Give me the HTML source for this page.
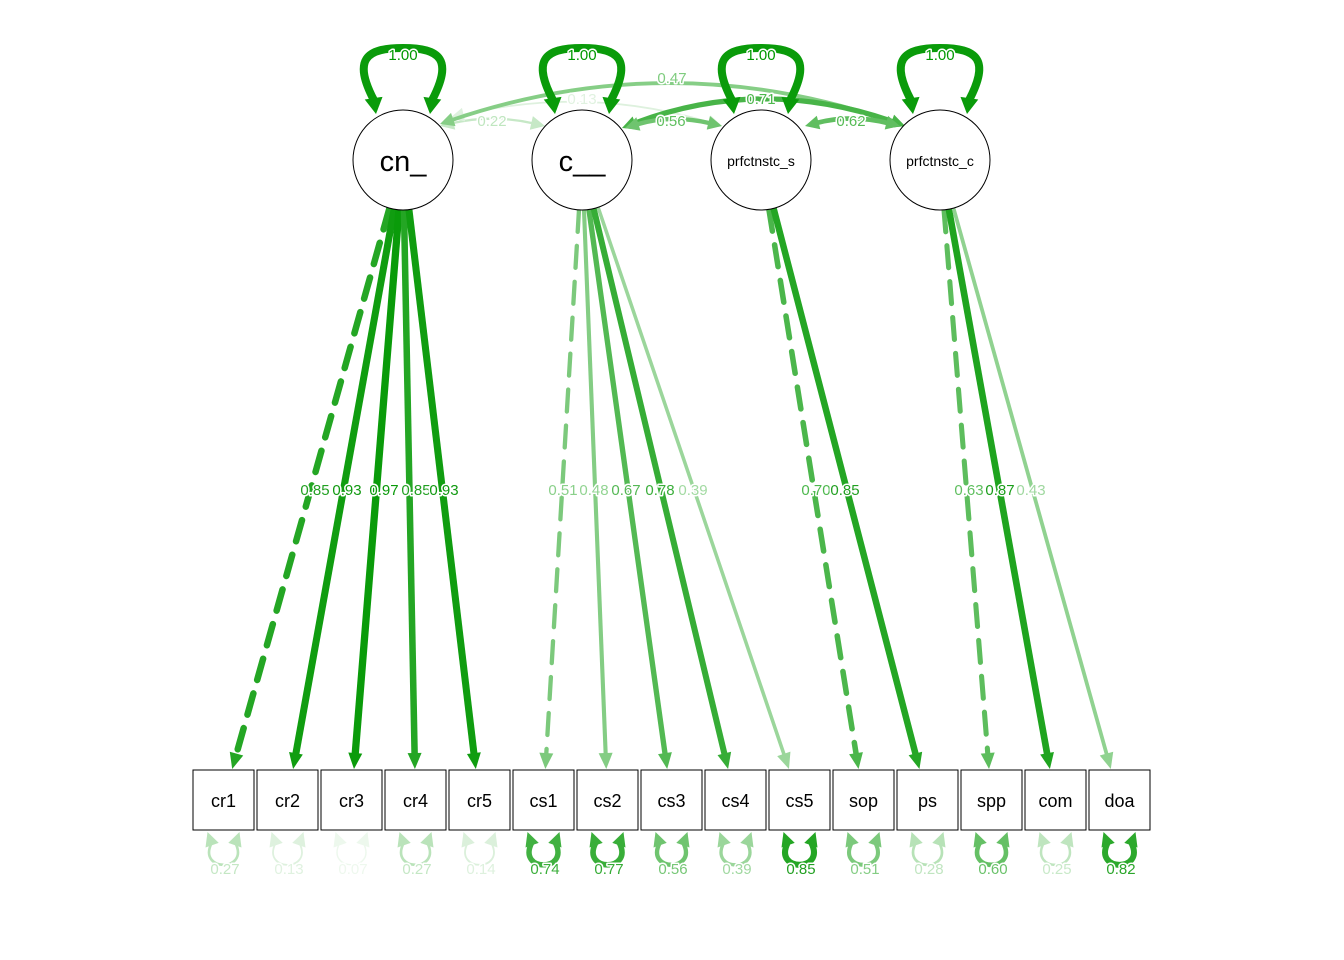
<!DOCTYPE html>
<html><head><meta charset="utf-8"><style>
html,body{margin:0;padding:0;background:#fff;}
svg{display:block;font-family:"Liberation Sans",Arial,sans-serif;}
.lb text{paint-order:stroke;stroke:#fff;stroke-width:3px;stroke-linejoin:round;}
</style></head><body>
<svg id="s" width="1344" height="960" viewBox="0 0 1344 960" xmlns="http://www.w3.org/2000/svg">
<g id="edges"></g>
<g id="nodes">
<circle cx="403" cy="160" r="50" fill="#fff" stroke="#000" stroke-width="1"/>
<circle cx="582" cy="160" r="50" fill="#fff" stroke="#000" stroke-width="1"/>
<circle cx="761" cy="160" r="50" fill="#fff" stroke="#000" stroke-width="1"/>
<circle cx="940" cy="160" r="50" fill="#fff" stroke="#000" stroke-width="1"/>
<text x="403" y="171" font-size="29" text-anchor="middle">cn_</text>
<text x="582" y="171" font-size="29" text-anchor="middle">c__</text>
<text x="761" y="166" font-size="14" text-anchor="middle">prfctnstc_s</text>
<text x="940" y="166" font-size="14" text-anchor="middle">prfctnstc_c</text>
</g>
<g id="boxes" font-size="18" text-anchor="middle">
<rect x="193" y="770" width="61" height="60" fill="#fff" stroke="#000"/><text x="223.5" y="807">cr1</text>
<rect x="257" y="770" width="61" height="60" fill="#fff" stroke="#000"/><text x="287.5" y="807">cr2</text>
<rect x="321" y="770" width="61" height="60" fill="#fff" stroke="#000"/><text x="351.5" y="807">cr3</text>
<rect x="385" y="770" width="61" height="60" fill="#fff" stroke="#000"/><text x="415.5" y="807">cr4</text>
<rect x="449" y="770" width="61" height="60" fill="#fff" stroke="#000"/><text x="479.5" y="807">cr5</text>
<rect x="513" y="770" width="61" height="60" fill="#fff" stroke="#000"/><text x="543.5" y="807">cs1</text>
<rect x="577" y="770" width="61" height="60" fill="#fff" stroke="#000"/><text x="607.5" y="807">cs2</text>
<rect x="641" y="770" width="61" height="60" fill="#fff" stroke="#000"/><text x="671.5" y="807">cs3</text>
<rect x="705" y="770" width="61" height="60" fill="#fff" stroke="#000"/><text x="735.5" y="807">cs4</text>
<rect x="769" y="770" width="61" height="60" fill="#fff" stroke="#000"/><text x="799.5" y="807">cs5</text>
<rect x="833" y="770" width="61" height="60" fill="#fff" stroke="#000"/><text x="863.5" y="807">sop</text>
<rect x="897" y="770" width="61" height="60" fill="#fff" stroke="#000"/><text x="927.5" y="807">ps</text>
<rect x="961" y="770" width="61" height="60" fill="#fff" stroke="#000"/><text x="991.5" y="807">spp</text>
<rect x="1025" y="770" width="61" height="60" fill="#fff" stroke="#000"/><text x="1055.5" y="807">com</text>
<rect x="1089" y="770" width="61" height="60" fill="#fff" stroke="#000"/><text x="1119.5" y="807">doa</text>
</g>
<g id="labels" class="lb" font-size="15" text-anchor="middle">
<text x="403" y="60" fill="#009900">1.00</text>
<text x="582" y="60" fill="#009900">1.00</text>
<text x="761" y="60" fill="#009900">1.00</text>
<text x="940" y="60" fill="#009900">1.00</text>
<text x="672" y="83" fill="#7fcc7f">0.47</text>
<text x="582" y="104" fill="#e0f2e0">0.13</text>
<text x="761" y="104" fill="#4db84d">0.71</text>
<text x="492" y="126" fill="#bfe6bf">0.22</text>
<text x="671" y="126" fill="#5fbf5f">0.56</text>
<text x="851" y="126" fill="#55bb55">0.62</text>
<text x="315" y="495" fill="#22a022">0.85</text>
<text x="347" y="495" fill="#109910">0.93</text>
<text x="384" y="495" fill="#0a990a">0.97</text>
<text x="416" y="495" fill="#22a022">0.85</text>
<text x="444" y="495" fill="#109910">0.93</text>
<text x="563" y="495" fill="#8ad08a">0.51</text>
<text x="594" y="495" fill="#92d492">0.48</text>
<text x="626" y="495" fill="#55b855">0.67</text>
<text x="660" y="495" fill="#3aae3a">0.78</text>
<text x="693" y="495" fill="#a2daa2">0.39</text>
<text x="816" y="495" fill="#4db84d">0.70</text>
<text x="845" y="495" fill="#22a022">0.85</text>
<text x="969" y="495" fill="#5fbf5f">0.63</text>
<text x="1000" y="495" fill="#1a9e1a">0.87</text>
<text x="1031" y="495" fill="#a0d8a0">0.43</text>
</g>
<g id="rlabels" class="lb" font-size="15" text-anchor="middle">
<text x="225" y="874" fill="#c4e7c4">0.27</text>
<text x="289" y="874" fill="#e0f2e0">0.13</text>
<text x="353" y="874" fill="#eef8ee">0.07</text>
<text x="417" y="874" fill="#c4e7c4">0.27</text>
<text x="481" y="874" fill="#def1de">0.14</text>
<text x="545" y="874" fill="#3aae3a">0.74</text>
<text x="609" y="874" fill="#34ab34">0.77</text>
<text x="673" y="874" fill="#76c776">0.56</text>
<text x="737" y="874" fill="#a0d8a0">0.39</text>
<text x="801" y="874" fill="#22a022">0.85</text>
<text x="865" y="874" fill="#84cd84">0.51</text>
<text x="929" y="874" fill="#c0e5c0">0.28</text>
<text x="993" y="874" fill="#6ac26a">0.60</text>
<text x="1057" y="874" fill="#c8e9c8">0.25</text>
<text x="1121" y="874" fill="#2aa62a">0.82</text>
</g>
</svg>
<script>
const NS="http://www.w3.org/2000/svg";
const E=document.getElementById('edges');
function col(v){const a=Math.max(0.05,Math.min(1,v*1.05));const r=Math.round(255*(1-a)+10*a),g=Math.round(255*(1-a)+155*a),b=Math.round(255*(1-a)+10*a);return `rgb(${r},${g},${b})`;}
function el(t,at,p){const e=document.createElementNS(NS,t);for(const k in at)e.setAttribute(k,at[k]);(p||E).appendChild(e);return e;}
function head(tx,ty,dx,dy,L,W,c){const n=Math.hypot(dx,dy);dx/=n;dy/=n;const bx=tx-dx*L,by=ty-dy*L,px=-dy*W/2,py=dx*W/2;
el('polygon',{points:`${tx},${ty} ${bx+px},${by+py} ${bx-px},${by-py}`,fill:c});return [bx+dx*2,by+dy*2];}
const lat=[403,582,761,940];
const bx=i=>223.5+64*i;
const loads=[[0,0,.85],[0,1,.93],[0,2,.97],[0,3,.85],[0,4,.93],[1,5,.51],[1,6,.48],[1,7,.67],[1,8,.78],[1,9,.39],[2,10,.70],[2,11,.85],[3,12,.63],[3,13,.87],[3,14,.43]];
const first={0:1,5:1,10:1,12:1};
loads.forEach(([l,i,v])=>{const cx=lat[l],cy=160,tx0=bx(i),ty0=800;const dx=tx0-cx,dy=ty0-cy,n=Math.hypot(dx,dy);
const sx=cx+dx/n*50,sy=cy+dy/n*50;const t=(769-cy)/dy;const tx=cx+dx*t,ty=769;const c=col(v);const w=1+v*6.5;
const [ex,ey]=head(tx,ty,dx,dy,16,14,c);
const a={x1:sx,y1:sy,x2:ex,y2:ey,stroke:c,'stroke-width':w};if(first[i]){a['stroke-dasharray']='22,14';a['stroke-linecap']='round';}
el('line',a);});
const covs=[[440,126,545,126,492,114,.22],[450,118,722,126,585,85,.13],[440,124,905,126,672,45,.47],[622,128,905,126,761,75,.71],[625,128,722,126,671,114,.56],[805,126,900,126,851,114,.62]];
covs.forEach(([x1,y1,x2,y2,qx,qy,v])=>{const c=col(v),w=1+v*6;
const [ax,ay]=head(x1,y1,x1-qx,y1-qy,14,14,c);const [bx2,by2]=head(x2,y2,x2-qx,y2-qy,14,14,c);
el('path',{d:`M${ax},${ay} Q${qx},${qy} ${bx2},${by2}`,fill:'none',stroke:c,'stroke-width':w});});
lat.forEach(cx=>{const c=col(1);const w=8;
const [ax,ay]=head(cx-27,114,0.15,1,16,18,c);const [bx2,by2]=head(cx+27,114,-0.15,1,16,18,c);
el('path',{d:`M${ax},${ay} C${cx-50},60 ${cx-38},48 ${cx},48 C${cx+38},48 ${cx+50},60 ${bx2},${by2}`,fill:'none',stroke:c,'stroke-width':w});});
const res=[.27,.13,.07,.27,.14,.74,.77,.56,.39,.85,.51,.28,.60,.25,.82];
res.forEach((v,i)=>{const cx=bx(i),c=col(v),w=1+v*6;
const [ax,ay]=head(cx-16,832,-0.35,-1,14,14,c);const [bx2,by2]=head(cx+16,832,0.35,-1,14,14,c);
el('path',{d:`M${ax},${ay} C${cx-26},872 ${cx+26},872 ${bx2},${by2}`,fill:'none',stroke:c,'stroke-width':w});});
</script>
</body></html>
